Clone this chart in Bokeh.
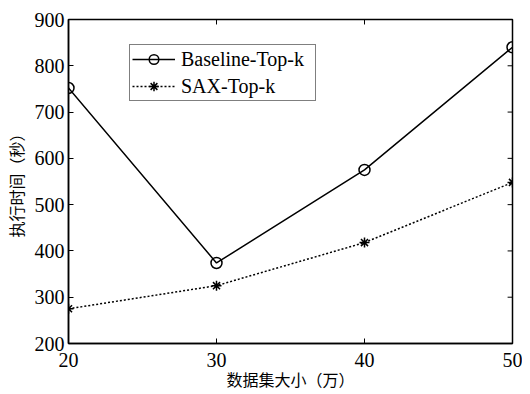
from bokeh.plotting import figure
from bokeh.models import FixedTicker, Range1d, Legend, LegendItem
from bokeh.embed import file_html
from bokeh.resources import INLINE

sizes = [20, 30, 40, 50]
baseline = [752, 374, 575, 840]
sax = [275, 325, 418, 548]
x_ticks = [20, 30, 40, 50]
y_ticks = [200, 300, 400, 500, 600, 700, 800, 900]
x_label = "数据集大小（万）"
y_label = "执行时间（秒）"

SERIF = "Liberation Serif"
CJK = "Noto Sans CJK SC"

W, H = 522, 393
BL, BR, BT, BB = 59, 10, 19, 41
TICK = 5

p = figure(width=W, height=H, output_backend="svg", toolbar_location=None,
           x_range=Range1d(x_ticks[0], x_ticks[-1]), y_range=Range1d(y_ticks[0], y_ticks[-1]),
           min_border_left=BL, min_border_right=BR, min_border_top=BT, min_border_bottom=BB)
p.grid.visible = False
p.outline_line_color = "black"
p.outline_line_width = 1.5

def style(ax):
    ax.major_tick_in = TICK
    ax.major_tick_out = 0
    ax.minor_tick_line_color = None
    ax.axis_line_color = "black"
    ax.axis_line_width = 1.5
    ax.major_tick_line_color = "black"
    ax.major_tick_line_width = 1
    ax.major_label_text_font = SERIF
    ax.major_label_text_font_size = "20px"
    ax.major_label_text_color = "black"
    ax.axis_label_text_color = "black"
    ax.axis_label_text_font = CJK
    ax.axis_label_text_font_size = "16px"
    ax.axis_label_text_font_style = "normal"

for ax in p.xaxis:
    ax.ticker = FixedTicker(ticks=x_ticks)
    style(ax)
    ax.major_label_standoff = 9
    ax.axis_label = x_label
    ax.axis_label_standoff = -3
for ax in p.yaxis:
    ax.ticker = FixedTicker(ticks=y_ticks)
    style(ax)
    ax.major_label_standoff = 4
    ax.axis_label = y_label
    ax.axis_label_standoff = 4

# mirrored inward ticks on top and right edges (length converted from px to data units)
x0, x1 = x_ticks[0], x_ticks[-1]
y0, y1 = y_ticks[0], y_ticks[-1]
dx = TICK * (x1 - x0) / (W - BL - BR)
dy = TICK * (y1 - y0) / 326
p.segment(x0=x_ticks, y0=[y1] * len(x_ticks), x1=x_ticks, y1=[y1 - dy] * len(x_ticks),
          line_color="black", line_width=1)
p.segment(x0=[x1] * len(y_ticks), y0=y_ticks, x1=[x1 - dx] * len(y_ticks), y1=y_ticks,
          line_color="black", line_width=1)

l1 = p.line(sizes, baseline, line_color="black", line_width=1.5)
m1 = p.scatter(sizes, baseline, marker="circle", size=11, fill_color=None,
               line_color="black", line_width=1.5)
l2 = p.line(sizes, sax, line_color="black", line_width=1.5, line_dash="2 2")
m2 = p.scatter(sizes, sax, marker="asterisk", size=10, line_color="black", line_width=1.5)

legend = Legend(items=[LegendItem(label="Baseline-Top-k", renderers=[l1, m1]),
                       LegendItem(label="SAX-Top-k", renderers=[l2, m2])],
                location=(61, 242))
legend.label_text_font = SERIF
legend.label_text_font_size = "20px"
legend.label_text_color = "black"
legend.border_line_color = "black"
legend.border_line_width = 1.5
legend.background_fill_alpha = 1
legend.glyph_width = 43
legend.glyph_height = 24
legend.label_height = 24
legend.label_width = 132
legend.label_standoff = 6
legend.padding = 2
legend.spacing = 3
legend.margin = 0
p.add_layout(legend, "center")

open("out.html", "w").write(file_html(p, INLINE))
